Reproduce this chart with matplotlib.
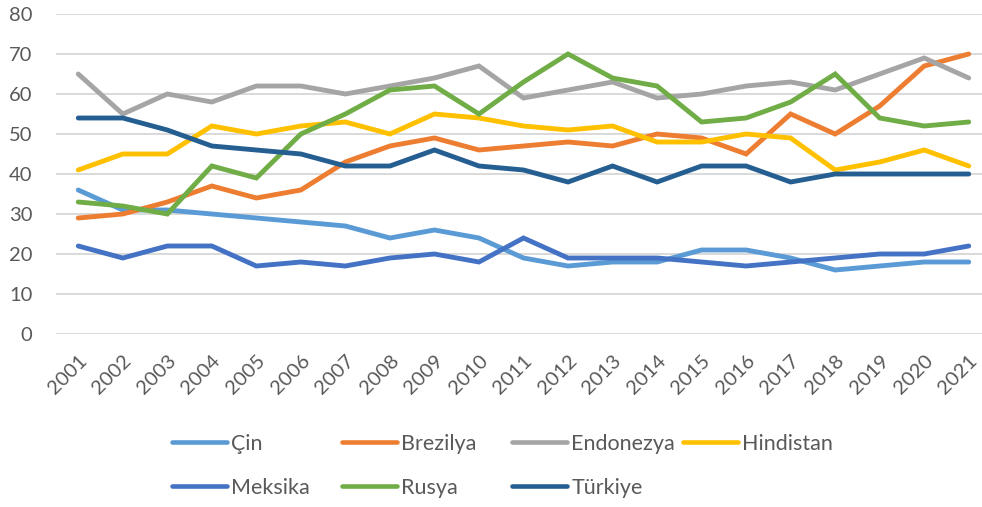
import matplotlib
matplotlib.use("Agg")
import matplotlib.pyplot as plt
from matplotlib.lines import Line2D

plt.rcParams['font.family'] = ['Lato', 'DejaVu Sans']

years = [str(y) for y in range(2001, 2022)]
cin = [36, 31, 31, 30, 29, 28, 27, 24, 26, 24, 19, 17, 18, 18, 21, 21, 19, 16, 17, 18, 18]
brezilya = [29, 30, 33, 37, 34, 36, 43, 47, 49, 46, 47, 48, 47, 50, 49, 45, 55, 50, 57, 67, 70]
endonezya = [65, 55, 60, 58, 62, 62, 60, 62, 64, 67, 59, 61, 63, 59, 60, 62, 63, 61, 65, 69, 64]
hindistan = [41, 45, 45, 52, 50, 52, 53, 50, 55, 54, 52, 51, 52, 48, 48, 50, 49, 41, 43, 46, 42]
meksika = [22, 19, 22, 22, 17, 18, 17, 19, 20, 18, 24, 19, 19, 19, 18, 17, 18, 19, 20, 20, 22]
rusya = [33, 32, 30, 42, 39, 50, 55, 61, 62, 55, 63, 70, 64, 62, 53, 54, 58, 65, 54, 52, 53]
turkiye = [54, 54, 51, 47, 46, 45, 42, 42, 46, 42, 41, 38, 42, 38, 42, 42, 38, 40, 40, 40, 40]

names = ["Çin", "Brezilya", "Endonezya", "Hindistan", "Meksika", "Rusya", "Türkiye"]
series = [cin, brezilya, endonezya, hindistan, meksika, rusya, turkiye]
colors = ["#5B9BD5", "#ED7D31", "#A5A5A5", "#FFC000", "#4472C4", "#70AD47", "#255E91"]

W, H = 982, 507
fig = plt.figure(figsize=(W / 100, H / 100), dpi=100)
left, right, top, bottom = 56, 991, 14, 334
ax = fig.add_axes([left / W, 1 - bottom / H, (right - left) / W, (bottom - top) / H])

x = list(range(len(years)))
handles = []
for name, vals, c in zip(names, series, colors):
    ln, = ax.plot(x, vals, color=c, lw=3.5, solid_capstyle='round', solid_joinstyle='miter', label=name, zorder=3)
    handles.append(ln)

ax.set_xlim(-0.5, len(years) - 0.5)
ax.set_ylim(0, 80)
ax.set_yticks(range(0, 81, 10))
ax.yaxis.grid(True, color="#D9D9D9", lw=1.4)
ax.set_axisbelow(True)
for s in ax.spines.values():
    s.set_visible(False)
ax.tick_params(axis='both', length=0, colors="#595959", labelsize=14.5)
ax.tick_params(axis='y', pad=17)
ax.set_xticks(x)
ax.set_xticklabels(years, rotation=45, ha='right', va='top', rotation_mode='anchor')
ax.tick_params(axis='x', pad=13)

# legend entries at fixed positions
pos = [(172, 444), (342, 444), (512, 444), (683, 444), (172, 488), (342, 488), (512, 488)]
for h, (px, py) in zip(handles, pos):
    fig.legend(handles=[Line2D([], [], color=h.get_color(), lw=3.3, solid_capstyle='round')],
               labels=[h.get_label()], loc='center left',
               bbox_to_anchor=(px / W, 1 - py / H), frameon=False,
               handlelength=2.55, handletextpad=0.2, borderpad=0, borderaxespad=0,
               fontsize=15.5, labelcolor="#595959")

fig.savefig("out.png", dpi=100)
